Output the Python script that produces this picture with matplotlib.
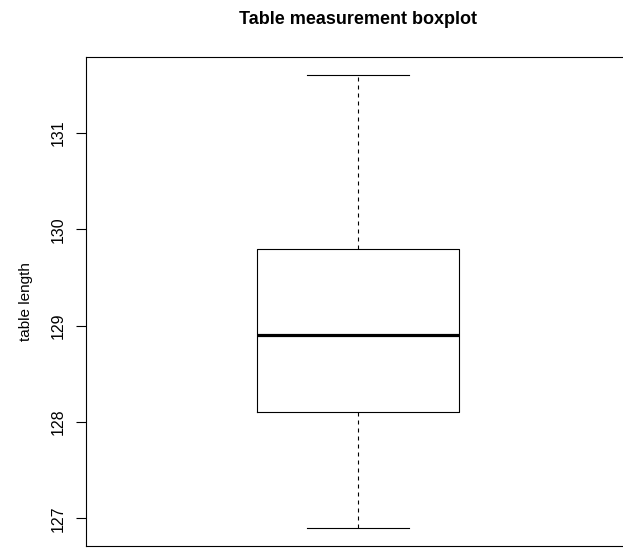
import matplotlib
matplotlib.use("Agg")
import matplotlib.pyplot as plt

# five-number summary
LABEL = "table length"
WHISKER_LOW = 126.9
Q1 = 128.1
MEDIAN = 128.9
Q3 = 129.8
WHISKER_HIGH = 131.6
YTICKS = [127, 128, 129, 130, 131]

plt.rcParams["font.family"] = ["Liberation Sans", "DejaVu Sans"]

W, H = 623, 548
fig = plt.figure(figsize=(W / 100, H / 100), dpi=100)
# plot region in pixels (R-style margins; right side runs off the canvas)
left, right, top, bottom = 85.5, 630.5, 57.0, 546.0
ax = fig.add_axes([left / W, 1 - bottom / H, (right - left) / W, (bottom - top) / H])

stats = [{
    "med": MEDIAN, "q1": Q1, "q3": Q3,
    "whislo": WHISKER_LOW, "whishi": WHISKER_HIGH, "fliers": [],
}]
ax.bxp(
    stats, positions=[1], widths=0.37, showfliers=False,
    boxprops=dict(color="black", linewidth=0.8),
    medianprops=dict(color="black", linewidth=2.3, solid_capstyle="butt"),
    whiskerprops=dict(color="black", linewidth=0.8, linestyle=(0, (3.6, 3.6))),
    capprops=dict(color="black", linewidth=0.8),
    capwidths=0.187,
)

ax.set_xlim(0.5, 1.5)
span = WHISKER_HIGH - WHISKER_LOW
ax.set_ylim(WHISKER_LOW - 0.04 * span, WHISKER_HIGH + 0.04 * span)
ax.set_xticks([])
ax.set_yticks(YTICKS)
ax.set_yticklabels([str(t) for t in YTICKS], rotation=90, va="center")
ax.tick_params(axis="y", length=7, width=0.8, labelsize=11.5, pad=7)
for s in ax.spines.values():
    s.set_linewidth(0.8)

ax.set_ylabel(LABEL, fontsize=11, labelpad=13)
fig.text((left + right) / 2 / W, 1 - 19 / H, "Table measurement boxplot",
         ha="center", va="center", fontsize=13, fontweight="bold")

fig.savefig("out.png", dpi=100)
